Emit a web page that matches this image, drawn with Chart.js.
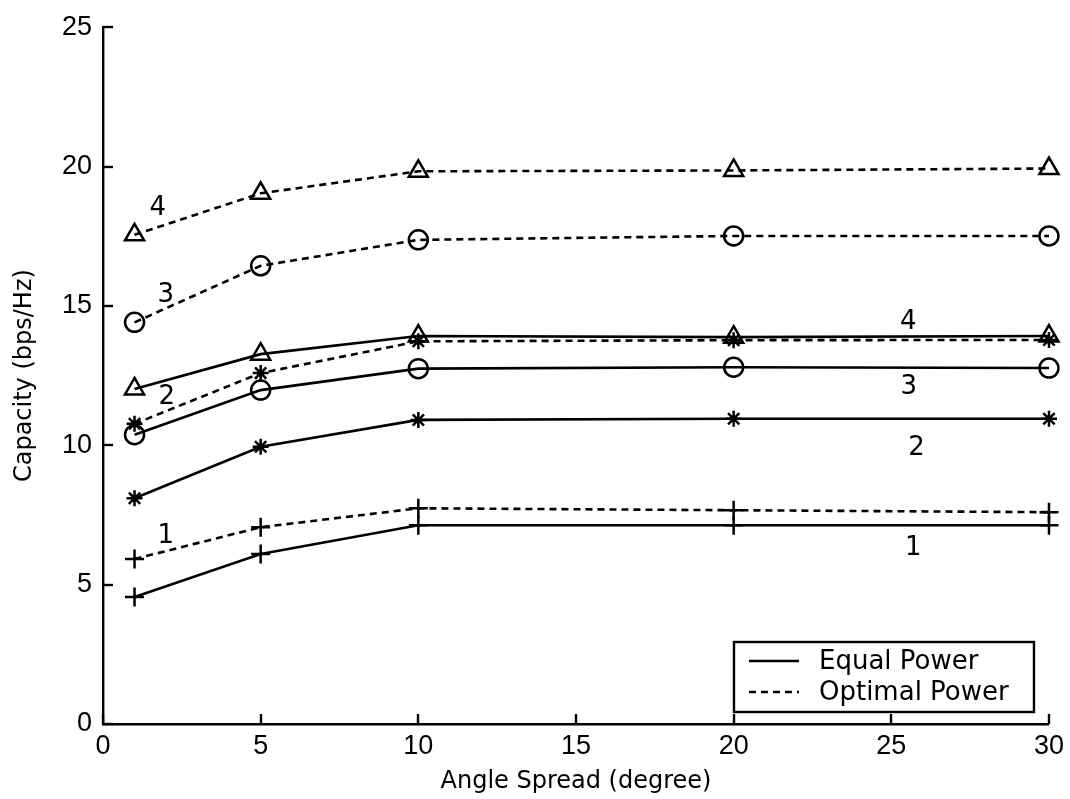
<!DOCTYPE html>
<html>
<head>
<meta charset="utf-8">
<script src="https://cdn.jsdelivr.net/npm/chart.js@4.4.0/dist/chart.umd.min.js"></script>
<style>
html, body { margin: 0; padding: 0; background: #fff; }
</style>
</head>
<body>
<canvas id="grafico" width="1070" height="799"></canvas>
<script>
// Datos
const angulos = [1, 5, 10, 20, 30];

const equal1 = [4.56, 6.10, 7.13, 7.13, 7.13];
const equal2 = [8.10, 9.95, 10.91, 10.95, 10.95];
const equal3 = [10.38, 11.98, 12.75, 12.80, 12.77];
const equal4 = [12.02, 13.27, 13.92, 13.88, 13.92];

const optimal1 = [5.92, 7.06, 7.74, 7.67, 7.60];
const optimal2 = [10.77, 12.59, 13.73, 13.77, 13.78];
const optimal3 = [14.41, 16.44, 17.37, 17.51, 17.51];
const optimal4 = [17.55, 19.04, 19.83, 19.86, 19.93];

const ticksX = [0, 5, 10, 15, 20, 25, 30];
const ticksY = [0, 5, 10, 15, 20, 25];

const nombresLeyenda = ["Equal Power", "Optimal Power"];
const numerosCurva = ["1", "2", "3", "4"];
// posiciones (en unidades de los ejes) de los numeros que marcan cada curva
const posNumOptimal = [[1.99, 6.74], [2.02, 11.73], [1.99, 15.37], [1.74, 18.5]];
const posNumEqual = [[25.7, 6.31], [25.8, 9.88], [25.55, 12.09], [25.54, 14.41]];

const marcadores = ["cross", "star", "circle", "triangle"];
const radios = [9.5, 8, 9.5, 11];
const guion = [7, 5];

function armarSerie(valores, n, punteada) {
    return {
        label: (punteada ? nombresLeyenda[1] : nombresLeyenda[0]) + " " + numerosCurva[n],
        data: angulos.map((a, i) => ({ x: a, y: valores[i] })),
        borderColor: "#000",
        borderWidth: 2.6,
        borderDash: punteada ? guion : [],
        pointStyle: marcadores[n],
        pointRadius: radios[n],
        pointHoverRadius: radios[n],
        pointBorderColor: "#000",
        pointBackgroundColor: "rgba(0,0,0,0)",
        pointBorderWidth: 2.5,
        tension: 0,
        fill: false,
        clip: false
    };
}

// Ticks hacia adentro
const ticksAdentro = {
    id: "ticksAdentro",
    afterDraw(chart) {
        const { ctx, chartArea, scales } = chart;
        ctx.save();
        ctx.strokeStyle = "#000";
        ctx.lineWidth = 2.4;
        ticksX.forEach(v => {
            const px = Math.round(scales.x.getPixelForValue(v));
            ctx.beginPath();
            ctx.moveTo(px, chartArea.bottom);
            ctx.lineTo(px, chartArea.bottom - 10);
            ctx.stroke();
        });
        ticksY.forEach(v => {
            const py = Math.round(scales.y.getPixelForValue(v));
            ctx.beginPath();
            ctx.moveTo(chartArea.left, py);
            ctx.lineTo(chartArea.left + 10, py);
            ctx.stroke();
        });
        ctx.restore();
    }
};

// Numeros junto a las curvas
const numeros = {
    id: "numeros",
    afterDatasetsDraw(chart) {
        const { ctx, scales } = chart;
        ctx.save();
        ctx.fillStyle = "#000";
        ctx.font = "26px 'DejaVu Sans'";
        ctx.textAlign = "center";
        ctx.textBaseline = "middle";
        numerosCurva.forEach((txt, i) => {
            ctx.fillText(txt, scales.x.getPixelForValue(posNumOptimal[i][0]), scales.y.getPixelForValue(posNumOptimal[i][1]));
            ctx.fillText(txt, scales.x.getPixelForValue(posNumEqual[i][0]), scales.y.getPixelForValue(posNumEqual[i][1]));
        });
        ctx.restore();
    }
};

// Leyenda dentro del area del grafico
const leyenda = {
    id: "leyenda",
    afterDraw(chart) {
        const { ctx, chartArea } = chart;
        const ancho = 300, alto = 70;
        const x0 = chartArea.right - 15 - ancho;
        const y0 = chartArea.bottom - 12 - alto;
        ctx.save();
        ctx.fillStyle = "#fff";
        ctx.fillRect(x0, y0, ancho, alto);
        ctx.strokeStyle = "#000";
        ctx.lineWidth = 2.4;
        ctx.strokeRect(x0, y0, ancho, alto);
        ctx.font = "26px 'DejaVu Sans'";
        ctx.fillStyle = "#000";
        ctx.textBaseline = "middle";
        nombresLeyenda.forEach((nombre, i) => {
            const y = y0 + 19 + i * 31;
            ctx.beginPath();
            ctx.lineWidth = 2.6;
            ctx.setLineDash(i === 0 ? [] : guion);
            ctx.moveTo(x0 + 15, y);
            ctx.lineTo(x0 + 65, y);
            ctx.stroke();
            ctx.setLineDash([]);
            ctx.fillText(nombre, x0 + 85, y + 1);
        });
        ctx.restore();
    }
};

Chart.defaults.font.family = "'Liberation Sans', Arial, sans-serif";
Chart.defaults.color = "#000";

const ctx = document.getElementById("grafico").getContext("2d");
const grafico = new Chart(ctx, {
    type: "line",
    data: {
        datasets: [
            armarSerie(equal1, 0, false),
            armarSerie(equal2, 1, false),
            armarSerie(equal3, 2, false),
            armarSerie(equal4, 3, false),
            armarSerie(optimal1, 0, true),
            armarSerie(optimal2, 1, true),
            armarSerie(optimal3, 2, true),
            armarSerie(optimal4, 3, true)
        ]
    },
    options: {
        responsive: false,
        animation: false,
        layout: { padding: { top: 23, right: 17, left: 0, bottom: 0 } },
        plugins: {
            legend: { display: false },
            tooltip: { enabled: false }
        },
        scales: {
            x: {
                type: "linear",
                min: 0,
                max: 30,
                afterBuildTicks(scale) { scale.ticks = ticksX.map(v => ({ value: v })); },
                afterFit(scale) { scale.height = 75; },
                ticks: { padding: 6, font: { size: 27 }, maxRotation: 0 },
                grid: { display: true, drawOnChartArea: false, drawTicks: false },
                border: { display: true, color: "#000", width: 2.4 },
                title: {
                    display: true,
                    text: "Angle Spread (degree)",
                    font: { size: 24, family: "'DejaVu Sans'" },
                    padding: { top: 0, bottom: 3 }
                }
            },
            y: {
                type: "linear",
                min: 0,
                max: 25,
                afterBuildTicks(scale) { scale.ticks = ticksY.map(v => ({ value: v })); },
                afterFit(scale) { scale.width = 103; },
                ticks: { padding: 11, font: { size: 27 } },
                grid: { display: true, drawOnChartArea: false, drawTicks: false },
                border: { display: true, color: "#000", width: 2.4 },
                title: {
                    display: true,
                    text: "Capacity (bps/Hz)",
                    font: { size: 24, family: "'DejaVu Sans'" },
                    padding: { top: 10, bottom: 0 }
                }
            }
        }
    },
    plugins: [ticksAdentro, numeros, leyenda]
});
</script>
</body>
</html>
